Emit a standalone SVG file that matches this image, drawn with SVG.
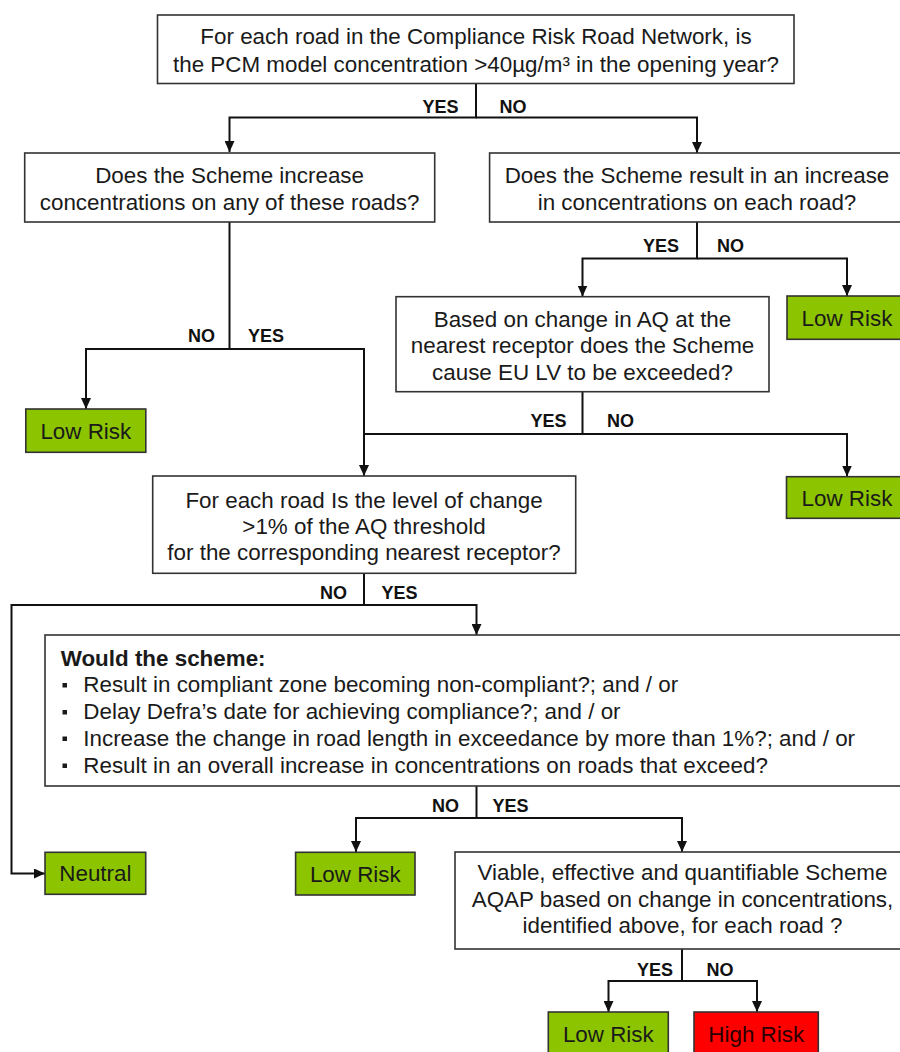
<svg xmlns="http://www.w3.org/2000/svg" width="900" height="1052" viewBox="0 0 900 1052">
<defs>
<style>
.box{fill:#ffffff;stroke:#333333;stroke-width:1.6}
.green{fill:#8CC400;stroke:#333333;stroke-width:1.6}
.red{fill:#FF0000;stroke:#333333;stroke-width:1.6}
.t{font-family:"Liberation Sans",Arial,sans-serif;font-size:22.4px;fill:#1a1a1a;text-anchor:middle}
.tl{font-family:"Liberation Sans",Arial,sans-serif;font-size:22.4px;fill:#1a1a1a}
.b{font-family:"Liberation Sans",Arial,sans-serif;font-size:18px;font-weight:bold;fill:#111111}
.e{text-anchor:end}
.c{fill:none;stroke:#111111;stroke-width:2}
</style>
<marker id="arr" markerUnits="userSpaceOnUse" markerWidth="11" markerHeight="10" refX="11" refY="5" orient="auto">
<path d="M0,0 L11,5 L0,10 z" fill="#111111"/>
</marker>
</defs>
<rect width="900" height="1052" fill="#ffffff"/>

<g id="connectors">
<path class="c" d="M476,83 V117.5 H229.5 V152" marker-end="url(#arr)"/>
<path class="c" d="M476,117.5 H697 V153" marker-end="url(#arr)"/>
<path class="c" d="M229.5,222 V349 H86 V409" marker-end="url(#arr)"/>
<path class="c" d="M229.5,349 H364 V476" marker-end="url(#arr)"/>
<path class="c" d="M697,222 V258.5 H582.5 V296.5" marker-end="url(#arr)"/>
<path class="c" d="M697,258.5 H847 V296" marker-end="url(#arr)"/>
<path class="c" d="M582.5,392 V434 H364"/>
<path class="c" d="M582.5,434 H847 V476.5" marker-end="url(#arr)"/>
<path class="c" d="M364,573 V605 H11.5 V873.5 H45" marker-end="url(#arr)"/>
<path class="c" d="M364,605 H476.5 V635" marker-end="url(#arr)"/>
<path class="c" d="M476.5,786 V818 H356 V852" marker-end="url(#arr)"/>
<path class="c" d="M476.5,818 H682 V852" marker-end="url(#arr)"/>
<path class="c" d="M682,949 V981 H608.5 V1012" marker-end="url(#arr)"/>
<path class="c" d="M682,981 H757 V1012" marker-end="url(#arr)"/>
<text class="b e" x="458.5" y="112.5">YES</text>
<text class="b" x="499.5" y="112.5">NO</text>
<text class="b e" x="679" y="251.5">YES</text>
<text class="b" x="717" y="251.5">NO</text>
<text class="b e" x="215" y="341.5">NO</text>
<text class="b" x="248" y="341.5">YES</text>
<text class="b e" x="566.5" y="426.5">YES</text>
<text class="b" x="607" y="426.5">NO</text>
<text class="b e" x="347" y="598.5">NO</text>
<text class="b" x="381.5" y="598.5">YES</text>
<text class="b e" x="459" y="812">NO</text>
<text class="b" x="492.5" y="812">YES</text>
<text class="b e" x="673" y="976">YES</text>
<text class="b" x="706.5" y="976">NO</text>
</g>

<g id="q1">
<rect class="box" x="157.5" y="15" width="636.5" height="68.5"/>
<text class="t" x="476" y="44">For each road in the Compliance Risk Road Network, is</text>
<text class="t" x="476" y="71.5">the PCM model concentration &gt;40µg/m³ in the opening year?</text>
</g>

<g id="q2">
<rect class="box" x="24.7" y="153" width="410" height="69"/>
<text class="t" x="229.6" y="182.7">Does the Scheme increase</text>
<text class="t" x="229.6" y="209.5">concentrations on any of these roads?</text>
</g>

<g id="q3">
<rect class="box" x="489.6" y="153" width="415" height="69"/>
<text class="t" x="697" y="182.7">Does the Scheme result in an increase</text>
<text class="t" x="697" y="210">in concentrations on each road?</text>
</g>

<g id="q4">
<rect class="box" x="396" y="296.7" width="373" height="95"/>
<text class="t" x="582.5" y="326.5">Based on change in AQ at the</text>
<text class="t" x="582.5" y="353">nearest receptor does the Scheme</text>
<text class="t" x="582.5" y="380">cause EU LV to be exceeded?</text>
</g>

<g id="lr1">
<rect class="green" x="787" y="296" width="120" height="43.3"/>
<text class="t" x="847" y="325.5">Low Risk</text>
</g>

<g id="lr2">
<rect class="green" x="25.8" y="409" width="120" height="43.3"/>
<text class="t" x="85.8" y="438.7">Low Risk</text>
</g>

<g id="lr3">
<rect class="green" x="786.5" y="476.7" width="121" height="41.6"/>
<text class="t" x="847" y="505.5">Low Risk</text>
</g>

<g id="q5">
<rect class="box" x="152.7" y="476" width="423" height="97.3"/>
<text class="t" x="364" y="507.5">For each road Is the level of change</text>
<text class="t" x="364" y="533.5">&gt;1% of the AQ threshold</text>
<text class="t" x="364" y="560">for the corresponding nearest receptor?</text>
</g>

<g id="q6">
<rect class="box" x="45" y="635" width="870" height="151"/>
<text class="tl" x="60.7" y="666" font-weight="bold">Would the scheme:</text>
<rect x="62.5" y="683" width="4.5" height="4.5" fill="#1a1a1a"/>
<text class="tl" x="83.3" y="692.3">Result in compliant zone becoming non-compliant?; and / or</text>
<rect x="62.5" y="710" width="4.5" height="4.5" fill="#1a1a1a"/>
<text class="tl" x="83.3" y="719.3">Delay Defra’s date for achieving compliance?; and / or</text>
<rect x="62.5" y="736.5" width="4.5" height="4.5" fill="#1a1a1a"/>
<text class="tl" x="83.3" y="746">Increase the change in road length in exceedance by more than 1%?; and / or</text>
<rect x="62.5" y="763.5" width="4.5" height="4.5" fill="#1a1a1a"/>
<text class="tl" x="83.3" y="772.7">Result in an overall increase in concentrations on roads that exceed?</text>
</g>

<g id="neutral">
<rect class="green" x="45" y="852.3" width="100.7" height="42"/>
<text class="t" x="95.4" y="881.3">Neutral</text>
</g>

<g id="lr4">
<rect class="green" x="295.6" y="852.3" width="119.4" height="42.7"/>
<text class="t" x="355.3" y="881.5">Low Risk</text>
</g>

<g id="q7">
<rect class="box" x="455" y="852" width="455" height="97"/>
<text class="t" x="682.5" y="880">Viable, effective and quantifiable Scheme</text>
<text class="t" x="682.5" y="906.5">AQAP based on change in concentrations,</text>
<text class="t" x="682.5" y="933">identified above, for each road ?</text>
</g>

<g id="lr5">
<rect class="green" x="548.3" y="1012" width="120" height="44"/>
<text class="t" x="608.3" y="1041.7">Low Risk</text>
</g>

<g id="hr">
<rect class="red" x="694" y="1012" width="124.3" height="44"/>
<text class="t" x="756.2" y="1041.7" style="fill:#2a0000">High Risk</text>
</g>
</svg>
